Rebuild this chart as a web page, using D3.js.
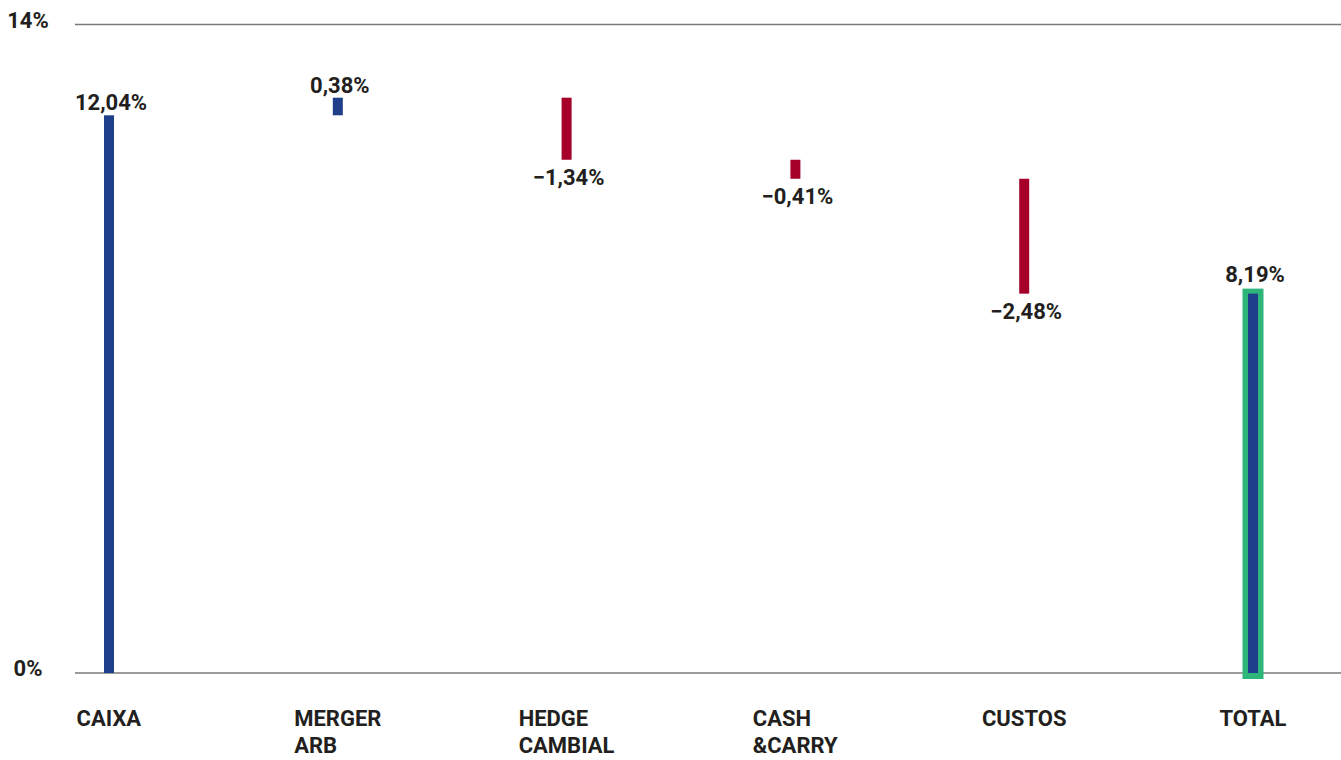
<!DOCTYPE html>
<html>
<head>
<meta charset="utf-8">
<script src="https://cdn.jsdelivr.net/npm/d3@7"></script>
<style>
  body { margin: 0; background: #fff; }
  text { font-family: Roboto, "DejaVu Sans", sans-serif; font-weight: 700; fill: #231f20; }
</style>
</head>
<body>
<div id="graph"></div>
<script>
const width = 1341
const height = 760

// data
const categories = ['CAIXA', 'MERGER ARB', 'HEDGE CAMBIAL', 'CASH &CARRY', 'CUSTOS', 'TOTAL']
const catLines = [['CAIXA'], ['MERGER', 'ARB'], ['HEDGE', 'CAMBIAL'], ['CASH', '&CARRY'], ['CUSTOS'], ['TOTAL']]
const deltas = [12.04, 0.38, -1.34, -0.41, -2.48, 8.19]
const kinds = ['base', 'step', 'step', 'step', 'step', 'total']
const yTicks = [0, 14]

const blue = '#1f3f8a'
const red = '#a6002a'
const green = '#2db57a'

// waterfall start/end
let running = 0
const bars = categories.map((c, i) => {
  let y0, y1
  if (kinds[i] === 'step') {
    y0 = running
    y1 = running + deltas[i]
    running = y1
  } else {
    y0 = 0
    y1 = deltas[i]
    running = deltas[i]
  }
  return {cat: c, lines: catLines[i], v: deltas[i], y0, y1, kind: kinds[i]}
})

const svg = d3.select('#graph').append('svg')
  .attr('width', width)
  .attr('height', height)
  .style('display', 'block')

const x = d3.scalePoint().domain(categories).range([109, 1253])
const y = d3.scaleLinear().domain([0, 14]).range([673, 24.5])

const fmt = (v) => (v < 0 ? '\u2212' : '') + Math.abs(v).toFixed(2).replace('.', ',') + '%'

// gridlines at 0% and 14%
svg.selectAll('.grid').data(yTicks).enter().append('line')
  .attr('x1', 75).attr('x2', width)
  .attr('y1', d => y(d)).attr('y2', d => y(d))
  .attr('stroke', '#7a7a7a').attr('stroke-width', 1.5)

svg.selectAll('.ytick').data(yTicks).enter().append('text')
  .attr('x', 28).attr('y', d => y(d) + 3)
  .attr('text-anchor', 'middle')
  .attr('font-size', 22)
  .text(d => d + '%')

const bw = 10

// total highlight box
const tot = bars.find(b => b.kind === 'total')
svg.append('rect')
  .attr('x', x(tot.cat) - 10.5)
  .attr('width', 21)
  .attr('y', y(tot.y1) - 5)
  .attr('height', y(0) + 6 - (y(tot.y1) - 5))
  .attr('fill', green)

svg.selectAll('.bar').data(bars).enter().append('rect')
  .attr('x', d => x(d.cat) - bw / 2)
  .attr('width', bw)
  .attr('y', d => y(Math.max(d.y0, d.y1)))
  .attr('height', d => Math.abs(y(d.y0) - y(d.y1)))
  .attr('fill', d => d.v < 0 ? red : blue)

// value labels
svg.selectAll('.val').data(bars).enter().append('text')
  .attr('x', d => x(d.cat) + 2)
  .attr('y', d => {
    if (d.v < 0) return y(d.y1) + 25
    if (d.kind === 'total') return y(d.y1) - 12
    return y(d.y1) - 5
  })
  .attr('text-anchor', 'middle')
  .attr('font-size', 22)
  .text(d => fmt(d.v))

// category labels: block centred on bar, lines left aligned
const cl = svg.selectAll('.cat').data(bars).enter().append('text')
  .attr('font-size', 22)
cl.each(function (d) {
  const t = d3.select(this)
  d.lines.forEach((ln, j) => {
    t.append('tspan').attr('x', 0).attr('y', 726 + j * 27).text(ln)
  })
})
cl.each(function (d) {
  const w = this.getBBox().width
  d3.select(this).selectAll('tspan').attr('x', x(d.cat) - w / 2)
})
</script>
</body>
</html>
